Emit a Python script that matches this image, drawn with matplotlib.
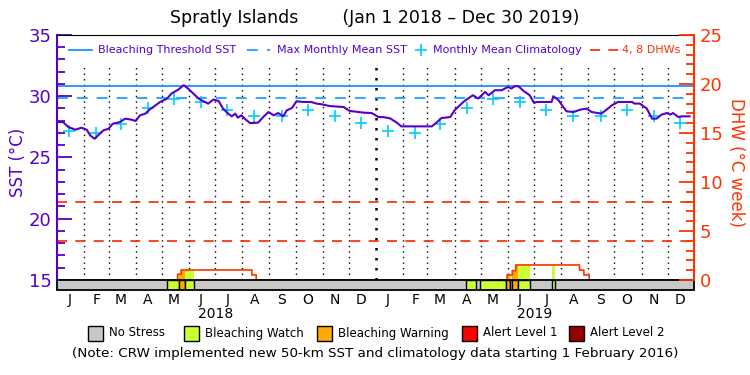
import numpy as np
import matplotlib
matplotlib.use("Agg")
import matplotlib.pyplot as plt
from matplotlib.patches import Rectangle
from matplotlib.lines import Line2D
from matplotlib.ticker import MultipleLocator, FixedLocator
import matplotlib.transforms as mtrans

# days counted from Jan 1 2018
sst_days = [0, 7, 13, 21, 28, 34, 38, 43, 49, 53, 59, 64, 72, 78, 85, 90, 95, 101, 106,
            118, 126, 131, 139, 145, 150, 156, 162, 167, 173, 179, 185, 190, 196, 200,
            204, 207, 211, 217, 221, 230, 236, 242, 248, 253, 259, 263, 269, 274, 282,
            291, 297, 303, 312, 328, 335, 351, 360, 368, 373, 381, 389, 394, 400, 429,
            435, 440, 450, 455, 465, 473, 476, 482, 490, 494, 501, 509, 516, 520, 524,
            528, 534, 541, 546, 549, 566, 568, 574, 578, 583, 591, 599, 606, 612, 623,
            629, 635, 642, 658, 661, 667, 675, 681, 686, 692, 698, 702, 705, 711, 715, 724]
sst_vals = [27.89, 27.89, 27.48, 27.27, 27.43, 27.27, 26.80, 26.53, 26.94, 27.21, 27.35,
            27.76, 27.89, 28.17, 28.09, 27.98, 28.44, 28.58, 28.91, 29.53, 29.81, 30.22,
            30.55, 30.90, 30.63, 30.22, 29.81, 29.61, 29.40, 29.73, 29.61, 28.99, 28.58,
            28.36, 28.58, 28.25, 28.44, 28.03, 27.81, 27.84, 28.30, 28.71, 28.44, 28.63,
            28.36, 28.85, 29.04, 29.59, 29.53, 29.53, 29.40, 29.34, 29.20, 29.12, 28.80,
            28.66, 28.63, 28.30, 28.30, 28.20, 27.84, 27.54, 27.54, 27.54, 27.89, 28.22,
            28.30, 28.85, 29.53, 29.94, 30.08, 29.81, 30.35, 30.08, 30.49, 30.49, 30.76,
            30.63, 30.82, 30.82, 30.43, 30.08, 29.45, 29.53, 29.53, 30.00, 29.67, 29.26,
            28.77, 28.71, 28.91, 28.99, 28.71, 28.58, 28.91, 29.26, 29.53, 29.53, 29.40,
            29.40, 28.99, 28.17, 28.17, 28.50, 28.63, 28.50, 28.63, 28.30, 28.36, 28.36]

clim_vals = [27.2, 27.0, 27.76, 29.07, 29.8, 29.53, 28.85, 28.39, 28.39, 28.85, 28.42, 27.84]
mmm = 29.85
threshold = 30.85

month_starts = [0, 31, 59, 90, 120, 151, 181, 212, 243, 273, 304, 334,
                365, 396, 424, 455, 485, 516, 546, 577, 608, 638, 669, 699]
month_letters = ["J", "F", "M", "A", "M", "J", "J", "A", "S", "O", "N", "D"] * 2
years = ["2018", "2019"]

dhw_days = [0, 138, 142, 223, 228, 515, 521, 525, 598, 603, 609]
dhw_vals = [0, 0.58, 1.02, 0.51, 0, 0.51, 0.95, 1.53, 1.0, 0.51, 0]

stress_start = [126, 140, 147, 468, 484, 514, 518, 521, 528, 567]
stress_end = [140, 147, 157, 479, 514, 518, 521, 528, 541, 570]
stress_level = [1, 2, 1, 1, 1, 2, 1, 2, 1, 1]

stress_names = ["No Stress", "Bleaching Watch", "Bleaching Warning", "Alert Level 1", "Alert Level 2"]
stress_colors = ["#c8c8c8", "#ccff33", "#ffaa00", "#ff0000", "#990000"]

purple = "#5500cc"
red = "#ff3300"
ndays = 729
ylo = 14.18


def to_sst(d):
    return 15 + np.asarray(d) * 0.8


W, H = 750, 375
fig = plt.figure(figsize=(7.5, 3.75), dpi=100)
ax = fig.add_axes([57 / W, 85 / H, 637 / W, 255 / H])
ax.set_xlim(0, ndays)
ax.set_ylim(ylo, 35)

# month grid
for m in month_starts[1:]:
    lw = 1.8 if m == 365 else 1
    ax.vlines(m, 15, 32.6, colors="k", linestyles=(0, (1, 3)), lw=lw, zorder=1)

ax.axhline(threshold, color="#1e90ff", lw=1.3, zorder=2)
ax.axhline(mmm, color="#1ea0ff", lw=1.3, ls=(0, (6, 5)), zorder=2)
for lev in [4, 8]:
    ax.axhline(to_sst(lev), color="#ff2200", lw=1.2, ls=(0, (6, 5)), zorder=2)

clim_days = [m + 14 for m in month_starts]
ax.plot(clim_days, clim_vals * 2, ls="none", marker="+", ms=9, mew=1.2,
        color="#00ccff", zorder=3)
ax.plot(sst_days, sst_vals, color=purple, lw=1.5, zorder=4)

# DHW step function, daily
dhw_daily = np.zeros(ndays + 1)
for i in range(len(dhw_days)):
    end = dhw_days[i + 1] if i + 1 < len(dhw_days) else ndays + 1
    dhw_daily[dhw_days[i]:end] = dhw_vals[i]
days = np.arange(ndays + 1)
for s, e, lv in zip(stress_start, stress_end, stress_level):
    xs = days[s:e + 1]
    ax.fill_between(xs, 15, to_sst(dhw_daily[s:e + 1]), step="post",
                    color=stress_colors[lv], lw=0, zorder=2)
ax.plot(days, to_sst(dhw_daily), drawstyle="steps-post", color=red, lw=1.2, zorder=3)

# stress bar
ax.add_patch(Rectangle((0, ylo), ndays, 15 - ylo, fc=stress_colors[0], ec="none", zorder=5))
for s, e, lv in zip(stress_start, stress_end, stress_level):
    ax.add_patch(Rectangle((s, ylo), e - s, 15 - ylo, fc=stress_colors[lv],
                           ec="k", lw=1, zorder=6))
ax.add_patch(Rectangle((0, ylo), ndays, 15 - ylo, fc="none", ec="k", lw=1.3,
                       zorder=7, clip_on=False))

# axes styling
ax.spines["bottom"].set_visible(False)
ax.spines["top"].set_color("k")
ax.spines["left"].set_color(purple)
ax.spines["left"].set_linewidth(1.5)
ax.spines["left"].set_bounds(15, 35)
ax.spines["right"].set_visible(False)
ax.yaxis.set_major_locator(MultipleLocator(5))
ax.yaxis.set_minor_locator(FixedLocator(np.arange(15, 36)))
ax.tick_params(axis="y", which="major", direction="in", length=11, width=1.3,
               color=purple, labelcolor=purple, labelsize=13, pad=4)
ax.tick_params(axis="y", which="minor", direction="in", length=6, width=1.3, color=purple)
ax.set_ylabel("SST (°C)", color=purple, fontsize=12, labelpad=1)

ax.set_xticks(clim_days)
ax.set_xticklabels(month_letters, fontsize=10)
ax.tick_params(axis="x", length=0, pad=2)
trans = mtrans.blended_transform_factory(ax.transData, ax.transAxes)
for i, y in enumerate(years):
    ax.text(182 + 365 * i, -0.095, y, transform=trans, ha="center", va="center", fontsize=10)

ax2 = ax.twinx()
ax2.set_ylim((ylo - 15) * 1.25, 25)
for sp in ["top", "bottom", "left"]:
    ax2.spines[sp].set_visible(False)
ax2.spines["right"].set_color(red)
ax2.spines["right"].set_linewidth(1.5)
ax2.spines["right"].set_bounds(0, 25)
ax2.set_yticks([0, 5, 10, 15, 20, 25])
ax2.yaxis.set_minor_locator(FixedLocator(np.arange(0, 26)))
ax2.tick_params(axis="y", which="major", direction="in", length=11, width=1.3,
                color=red, labelcolor=red, labelsize=13, pad=4)
ax2.tick_params(axis="y", which="minor", direction="in", length=6, width=1.3, color=red)
ax2.set_ylabel("DHW (°C week)", color=red, fontsize=12, rotation=270, labelpad=16)

# top legend, placed in figure pixels
ly = 1 - 50 / H
fs = 8
fig.add_artist(Line2D([69 / W, 92 / W], [ly, ly], color="#1e90ff", lw=1.3))
fig.text(98 / W, ly, "Bleaching Threshold SST", color=purple, fontsize=fs, va="center")
fig.add_artist(Line2D([247 / W, 270 / W], [ly, ly], color="#1ea0ff", lw=1.3, ls=(0, (6, 5))))
fig.text(277 / W, ly, "Max Monthly Mean SST", color=purple, fontsize=fs, va="center")
fig.add_artist(Line2D([421 / W], [ly], color="#00ccff", ls="none", marker="+", ms=9, mew=1.2))
fig.text(433 / W, ly, "Monthly Mean Climatology", color=purple, fontsize=fs, va="center")
fig.add_artist(Line2D([590 / W, 618 / W], [ly, ly], color="#ff2200", lw=1.2, ls=(0, (6, 5))))
fig.text(622 / W, ly, "4, 8 DHWs", color=red, fontsize=fs, va="center")

fig.text(0.5, 1 - 18 / H, "Spratly Islands        (Jan 1 2018 \u2013 Dec 30 2019)",
         ha="center", va="center", fontsize=12.5)

# bottom legend
box_x = [88, 184, 317, 462, 569]
for x0, name, c in zip(box_x, stress_names, stress_colors):
    fig.patches.append(Rectangle((x0 / W, 1 - 341 / H), 15 / W, 15 / H,
                                 transform=fig.transFigure, fc=c, ec="k", lw=1))
    fig.text((x0 + 21) / W, 1 - 333 / H, name, ha="left", va="center", fontsize=8.5)
fig.text(0.5, 1 - 353 / H,
         "(Note: CRW implemented new 50-km SST and climatology data starting 1 February 2016)",
         ha="center", va="center", fontsize=9.7)

fig.savefig("out.png", dpi=100)
